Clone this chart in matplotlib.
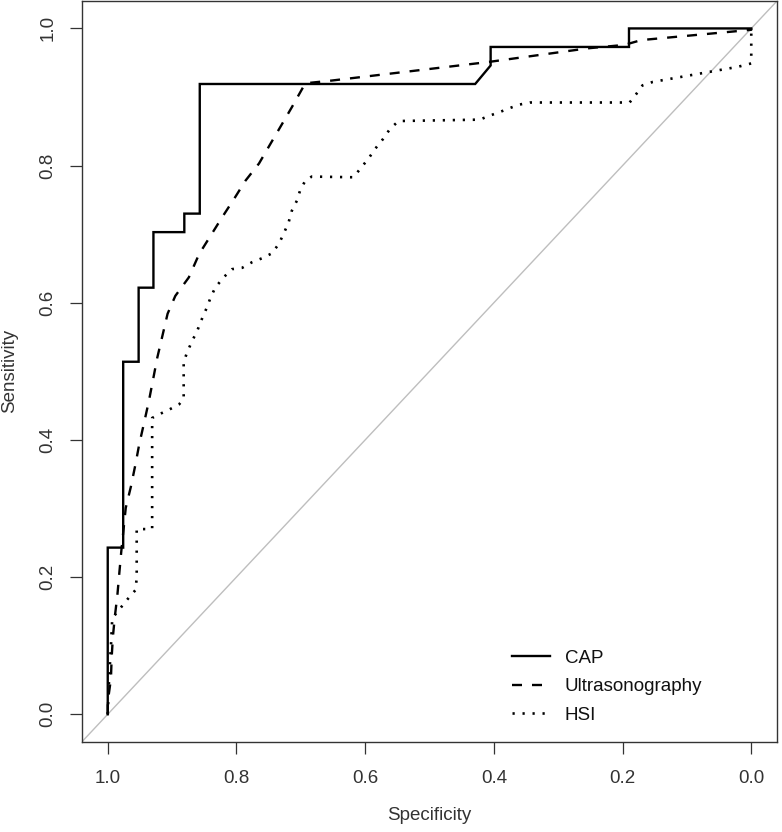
import matplotlib
matplotlib.use("Agg")
import matplotlib.pyplot as plt

plt.rcParams['font.family'] = ['Liberation Sans', 'DejaVu Sans']
plt.rcParams['lines.scale_dashes'] = False

# ---- data (specificity, sensitivity) ----
cap_spec = [1.0, 1.0, 0.976, 0.976, 0.952, 0.952, 0.929, 0.929, 0.881, 0.881,
            0.857, 0.857, 0.429, 0.405, 0.405, 0.190, 0.190, 0.0]
cap_sens = [0.0, 0.243, 0.243, 0.514, 0.514, 0.622, 0.622, 0.703, 0.703, 0.730,
            0.730, 0.919, 0.919, 0.946, 0.973, 0.973, 1.0, 1.0]

us_spec = [1.0, 1.0, 0.995, 0.994, 0.992, 0.989, 0.985, 0.982, 0.979, 0.972,
           0.964, 0.957, 0.951, 0.944, 0.936, 0.930, 0.923, 0.915, 0.907, 0.895,
           0.874, 0.858, 0.838, 0.822, 0.802, 0.786, 0.765, 0.747, 0.732, 0.714,
           0.693, 0.652, 0.409, 0.254, 0.197, 0.171, 0.0, 0.0]
us_sens = [0.0, 0.018, 0.052, 0.081, 0.113, 0.142, 0.174, 0.206, 0.237, 0.301,
           0.332, 0.364, 0.394, 0.423, 0.457, 0.486, 0.520, 0.552, 0.584, 0.610,
           0.637, 0.671, 0.701, 0.725, 0.754, 0.778, 0.803, 0.832, 0.856, 0.885,
           0.920, 0.924, 0.951, 0.971, 0.976, 0.983, 0.998, 1.0]

hsi_spec = [1.0, 0.998, 0.995, 0.993, 0.981, 0.969, 0.957, 0.955, 0.955, 0.931,
            0.931, 0.921, 0.905, 0.889, 0.882, 0.882, 0.877, 0.869, 0.861, 0.853,
            0.846, 0.840, 0.833, 0.820, 0.807, 0.791, 0.776, 0.760, 0.745, 0.734,
            0.727, 0.719, 0.714, 0.706, 0.701, 0.693, 0.683, 0.618, 0.608, 0.595,
            0.584, 0.572, 0.561, 0.548, 0.422, 0.406, 0.391, 0.375, 0.360, 0.344,
            0.189, 0.179, 0.169, 0.153, 0.021, 0.0, 0.0]
hsi_sens = [0.0, 0.05, 0.10, 0.140, 0.154, 0.168, 0.181, 0.198, 0.270, 0.270,
            0.432, 0.437, 0.444, 0.452, 0.460, 0.513, 0.527, 0.544, 0.559, 0.578,
            0.593, 0.608, 0.622, 0.637, 0.649, 0.651, 0.659, 0.665, 0.672, 0.686,
            0.700, 0.717, 0.734, 0.749, 0.764, 0.778, 0.784, 0.783, 0.795, 0.810,
            0.825, 0.839, 0.854, 0.865, 0.867, 0.873, 0.878, 0.884, 0.889, 0.892,
            0.892, 0.904, 0.917, 0.922, 0.944, 0.949, 1.0]

series_labels = ["CAP", "Ultrasonography", "HSI"]
tick_values = [1.0, 0.8, 0.6, 0.4, 0.2, 0.0]
tick_labels = ["1.0", "0.8", "0.6", "0.4", "0.2", "0.0"]

# ---- figure ----
W, H = 782, 832
fig = plt.figure(figsize=(W / 100, H / 100), dpi=100)
ax = fig.add_axes([82 / W, 1 - 741.7 / H, 695 / W, 740.7 / H])

ax.axline((1.0, 0.0), (0.0, 1.0), color='#BEBEBE', lw=1.0, zorder=1)

ax.plot(cap_spec, cap_sens, color='black', lw=1.7, solid_joinstyle='miter',
        label=series_labels[0], zorder=3)
ax.plot(us_spec, us_sens, color='black', lw=1.7, dashes=(7.2, 7.2),
        label=series_labels[1], zorder=3)
ax.plot(hsi_spec, hsi_sens, color='black', lw=1.9, dashes=(1.6, 5.6),
        label=series_labels[2], zorder=3)

ax.set_xlim(1.04, -0.04)
ax.set_ylim(-0.04, 1.04)
ax.set_xticks(tick_values)
ax.set_xticklabels(tick_labels)
ax.set_yticks(tick_values)
ax.set_yticklabels(tick_labels, rotation=90, va='center')

ax.tick_params(axis='both', length=8.6, width=0.9, color='#333333',
               labelsize=13.5, labelcolor='#333333')
ax.tick_params(axis='x', pad=11.5)
ax.tick_params(axis='y', pad=10)
for sp in ax.spines.values():
    sp.set_linewidth(1.0)
    sp.set_color('#333333')

ax.set_xlabel("Specificity", fontsize=13.5, color='#333333', labelpad=15)
ax.set_ylabel("Sensitivity", fontsize=13.5, color='#333333', labelpad=15)

leg = ax.legend(loc='upper left', bbox_to_anchor=(0.619, 0.124), frameon=False,
                fontsize=13.5, handlelength=2.0, handletextpad=0.8,
                labelspacing=0.6, borderpad=0, borderaxespad=0)
for t in leg.get_texts():
    t.set_color('#111111')

fig.savefig("out.png", dpi=100, facecolor='white')
